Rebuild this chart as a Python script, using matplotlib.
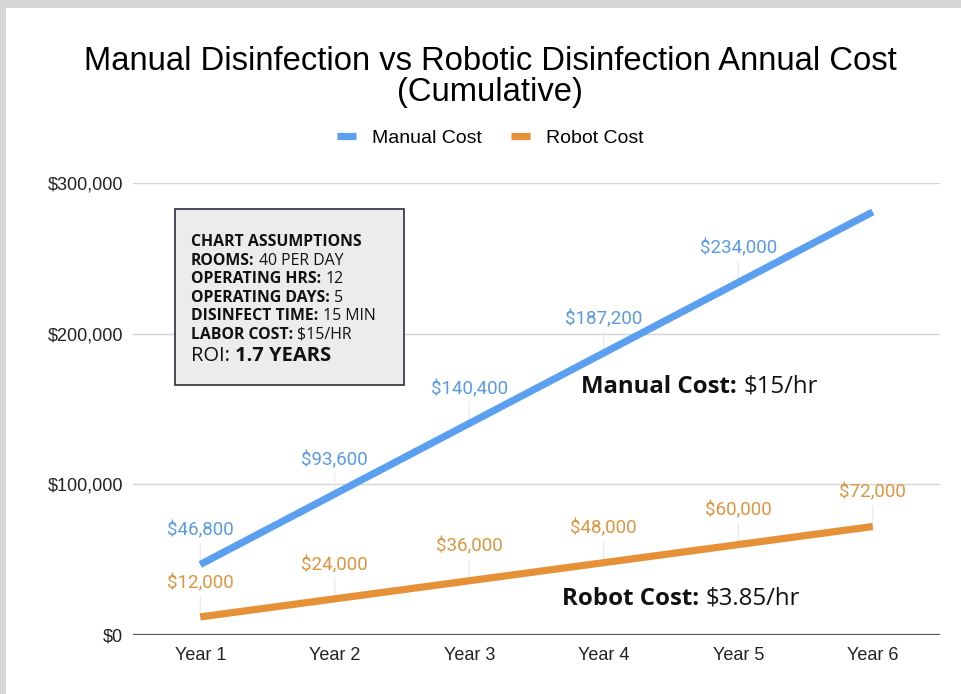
import matplotlib
matplotlib.use("Agg")
import matplotlib.pyplot as plt
from matplotlib.patches import Rectangle

# data
years = ["Year 1", "Year 2", "Year 3", "Year 4", "Year 5", "Year 6"]
manual_cost = [46800, 93600, 140400, 187200, 234000, 280800]
robot_cost = [12000, 24000, 36000, 48000, 60000, 72000]
manual_labelled = [True, True, True, True, True, False]
robot_labelled = [True, True, True, True, True, True]
y_ticks = [0, 100000, 200000, 300000]

assumptions = [
    [("CHART ASSUMPTIONS", "bold")],
    [("ROOMS:", "bold"), ("40 PER DAY", "normal")],
    [("OPERATING HRS:", "bold"), ("12", "normal")],
    [("OPERATING DAYS:", "bold"), ("5", "normal")],
    [("DISINFECT TIME:", "bold"), ("15 MIN", "normal")],
    [("LABOR COST:", "bold"), ("$15/HR", "normal")],
]

BLUE = "#5b9ff0"
ORANGE = "#e69138"
BLUE_TXT = "#5a9be3"
ORANGE_TXT = "#dd9540"

W, H = 961, 694
fig = plt.figure(figsize=(W / 100, H / 100), dpi=100)
fig.patch.set_facecolor("#d6d6d6")
fig.patches.append(Rectangle((6 / W, 0), 1, 1 - 8 / H, transform=fig.transFigure,
                             facecolor="white", edgecolor="none", zorder=-5))

ax = fig.add_axes([133 / W, 1 - 635 / H, 807 / W, 452 / H])
ax.set_facecolor("white")
x = list(range(1, len(years) + 1))

ax.plot(x, manual_cost, color=BLUE, lw=5.2, solid_capstyle="butt", label="Manual Cost", zorder=3)
ax.plot(x, robot_cost, color=ORANGE, lw=5.2, solid_capstyle="butt", label="Robot Cost", zorder=3)

def label_points(vals, flags, color):
    for xi, v, f in zip(x, vals, flags):
        if not f:
            continue
        ax.annotate(f"${v:,.0f}", xy=(xi, v), xytext=(0, 24.5), textcoords="offset points",
                    ha="center", va="center", color=color, fontsize=13.5, family="Roboto",
                    arrowprops=dict(arrowstyle="-", color="#e8e8e8", lw=0.8, shrinkA=1, shrinkB=0),
                    zorder=2)

label_points(manual_cost, manual_labelled, BLUE_TXT)
label_points(robot_cost, robot_labelled, ORANGE_TXT)

ax.set_xlim(0.5, len(years) + 0.5)
ax.set_ylim(0, 300000)
ax.set_xticks(x)
ax.set_xticklabels(years)
ax.set_yticks(y_ticks)
ax.set_yticklabels([f"${v:,.0f}" for v in y_ticks])
for lab in ax.get_xticklabels() + ax.get_yticklabels():
    lab.set_family("Liberation Sans")
    lab.set_fontsize(13)
    lab.set_color("#222222")
ax.tick_params(axis="both", length=0)
ax.tick_params(axis="y", pad=7)
ax.tick_params(axis="x", pad=9)
ax.grid(axis="y", color="#d4d4d4", lw=1)
ax.set_axisbelow(True)
for s in ax.spines.values():
    s.set_visible(False)
ax.axhline(0, color="#555555", lw=1.6, zorder=2)

fig.text(490 / W, 1 - 77 / H, "Manual Disinfection vs Robotic Disinfection Annual Cost\n(Cumulative)",
         ha="center", va="center", fontsize=23.6, family="Liberation Sans", linespacing=1.0)

fig.legend(loc="center", bbox_to_anchor=(490 / W, 1 - 138 / H), ncol=2, frameon=False,
           prop={"family": "Liberation Sans", "size": 14}, handlelength=1.0,
           handletextpad=0.8, columnspacing=1.5)

# assumptions box
fig.patches.append(Rectangle((175 / W, 1 - 385 / H), 229 / W, 176 / H, transform=fig.transFigure,
                             facecolor="#ececee", edgecolor="#3c3c4c", lw=1.3, zorder=5))

renderer = fig.canvas.get_renderer()

def rich_line(x_px, y_px, parts, size):
    cur = x_px
    for i, (s, w) in enumerate(parts):
        t = fig.text(cur / W, 1 - y_px / H, s, fontsize=size, fontweight=w, family="Open Sans",
                     ha="left", va="center", color="#111111", zorder=6)
        bb = t.get_window_extent(renderer)
        cur = bb.x1 + size * 0.27 * 100 / 72

for i, parts in enumerate(assumptions):
    rich_line(191, 242 + i * 18.6, parts, 11.4)
rich_line(191, 356, [("ROI:", "normal"), ("1.7 YEARS", "bold")], 14.5)

rich_line(581, 387, [("Manual Cost:", "bold"), ("$15/hr", "normal")], 17.3)
rich_line(562, 599, [("Robot Cost:", "bold"), ("$3.85/hr", "normal")], 17.3)

fig.savefig("out.png", dpi=100, facecolor=fig.get_facecolor())
